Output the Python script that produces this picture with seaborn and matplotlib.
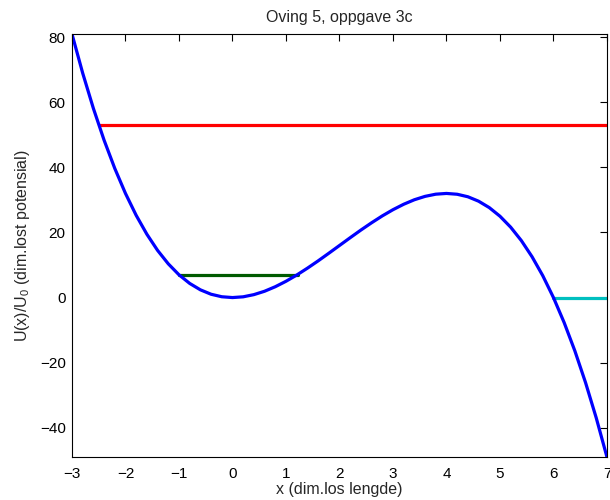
import matplotlib
matplotlib.use("Agg")
import matplotlib.pyplot as plt
import seaborn as sns
import pandas as pd

# Curve values
x_vals = [-3.0, -2.8, -2.6, -2.4, -2.2, -2.0, -1.8, -1.6, -1.4, -1.2, -1.0,
          -0.8, -0.6, -0.4, -0.2, 0.0, 0.2, 0.4, 0.6, 0.8, 1.0,
          1.2, 1.4, 1.6, 1.8, 2.0, 2.2, 2.4, 2.6, 2.8, 3.0,
          3.2, 3.4, 3.6, 3.8, 4.0, 4.2, 4.4, 4.6, 4.8, 5.0,
          5.2, 5.4, 5.6, 5.8, 6.0, 6.2, 6.4, 6.6, 6.8, 7.0]
u_vals = [81.0, 68.99, 58.14, 48.38, 39.69, 32.0, 25.27, 19.46, 14.50, 10.37, 7.0,
          4.35, 2.38, 1.02, 0.25, 0.0, 0.23, 0.90, 1.94, 3.33, 5.0,
          6.91, 9.02, 11.26, 13.61, 16.0, 18.39, 20.74, 22.98, 25.09, 27.0,
          28.67, 30.06, 31.10, 31.77, 32.0, 31.75, 30.98, 29.62, 27.65, 25.0,
          21.63, 17.50, 12.54, 6.73, 0.0, -7.69, -16.38, -26.14, -36.99, -49.0]

# Energy levels (horizontal segments)
level_energy = [53.0, 7.0, 0.0]
level_xstart = [-2.5, -1.0, 6.0]
level_xend = [7.0, 1.22, 7.0]
level_color = ["#ff0000", "#005a00", "#00bfbf"]

x_ticks = [-3, -2, -1, 0, 1, 2, 3, 4, 5, 6, 7]
y_ticks = [-40, -20, 0, 20, 40, 60, 80]

sns.set_theme(style="white")
plt.rcParams["font.family"] = ["Liberation Sans", "DejaVu Sans"]
plt.rcParams["mathtext.fontset"] = "custom"
plt.rcParams["mathtext.rm"] = "Liberation Sans"

fig = plt.figure(figsize=(6.1, 5.0), dpi=100)
ax = fig.add_axes([0.118, 0.086, 0.877, 0.846])

for e, xs, xe, c in zip(level_energy, level_xstart, level_xend, level_color):
    seg = pd.DataFrame({"x": [xs, xe], "y": [e, e]})
    sns.lineplot(data=seg, x="x", y="y", color=c, linewidth=2.3, ax=ax)

curve = pd.DataFrame({"x": x_vals, "U": u_vals})
sns.lineplot(data=curve, x="x", y="U", color="#0000ff", linewidth=2.3, ax=ax, sort=False)

ax.set_xlim(-3, 7)
ax.set_ylim(-49, 81)
ax.set_xticks(x_ticks)
ax.set_yticks(y_ticks)
ax.set_xticklabels(["\u2212" + str(-t) if t < 0 else str(t) for t in x_ticks])
ax.set_yticklabels(["\u2212" + str(-t) if t < 0 else str(t) for t in y_ticks])
ax.tick_params(direction="in", length=5, width=0.8, top=True, right=True,
               colors="black", labelsize=11)
ax.tick_params(axis="x", pad=7)
ax.tick_params(axis="y", pad=4.5)
for s in ax.spines.values():
    s.set_visible(True)
    s.set_color("black")
    s.set_linewidth(0.8)

ax.set_title("Oving 5, oppgave 3c", fontsize=11.5, pad=8.5)
ax.set_xlabel("x (dim.los lengde)", fontsize=11.5, labelpad=1)
ax.set_ylabel("U(x)/U$_\\mathregular{0}$ (dim.lost potensial)", fontsize=11.5)
ax.yaxis.set_label_coords(-0.0748, 0.5)

fig.savefig("out.png", dpi=100)
